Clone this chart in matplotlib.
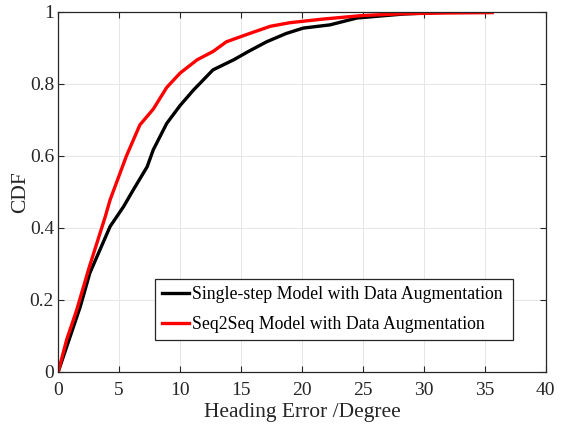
import matplotlib
matplotlib.use("Agg")
import matplotlib.pyplot as plt

# values
single_x = [0, 0.7, 1.8, 2.6, 4.26, 5.36, 6.15, 7.3, 7.8, 8.9, 10.0, 11.1,
            12.7, 14.4, 15.6, 17.1, 18.7, 20.1, 22.3, 24.5, 28.3, 32.1, 35.4]
single_y = [0, 0.07, 0.18, 0.275, 0.404, 0.459, 0.505, 0.57, 0.617, 0.69, 0.74,
            0.783, 0.839, 0.867, 0.89, 0.917, 0.94, 0.955, 0.964, 0.983, 0.994, 1.0, 1.0]

seq_x = [0, 0.7, 1.5, 2.54, 3.85, 4.26, 4.5, 5.6, 6.7, 7.8, 8.9, 10.0, 11.4,
         12.7, 13.8, 15.7, 17.4, 19.0, 21.7, 25.0, 28.3, 32.0, 35.6]
seq_y = [0, 0.09, 0.17, 0.29, 0.43, 0.478, 0.5, 0.6, 0.686, 0.73, 0.79, 0.83, 0.867,
         0.89, 0.917, 0.94, 0.96, 0.97, 0.98, 0.99, 0.995, 0.997, 0.998]

labels = ["Single-step Model with Data Augmentation",
          "Seq2Seq Model with Data Augmentation"]
xticks = [0, 5, 10, 15, 20, 25, 30, 35, 40]
yticks = [0, 0.2, 0.4, 0.6, 0.8, 1]
ytick_labels = ["0", "0.2", "0.4", "0.6", "0.8", "1"]

plt.rcParams["font.family"] = ["Liberation Serif", "DejaVu Serif"]

fig = plt.figure(figsize=(5.65, 4.25), dpi=100)
ax = fig.add_axes([0.103, 0.125, 0.863, 0.847])

ax.plot(single_x, single_y, color="black", lw=2.4, label=labels[0])
ax.plot(seq_x, seq_y, color="red", lw=2.4, label=labels[1])

ax.set_xlim(0, 40)
ax.set_ylim(0, 1)
ax.set_xticks(xticks)
ax.set_yticks(yticks)
ax.set_yticklabels(ytick_labels)
ax.tick_params(direction="in", top=True, right=True, labelsize=14, length=4,
               colors="#262626")
ax.tick_params(axis="x", pad=7)
ax.tick_params(axis="y", pad=3)
ax.grid(True, color="#e6e6e6", lw=0.7)
for s in ax.spines.values():
    s.set_color("#262626")
    s.set_linewidth(0.9)

ax.set_xlabel("Heading Error /Degree", fontsize=15.5, color="#262626", labelpad=3)
ax.set_ylabel("CDF", fontsize=15.5, color="#262626", labelpad=0)

leg = ax.legend(loc="lower left", bbox_to_anchor=(0.199, 0.089, 0.733, 0.175),
                mode="expand", fontsize=12.8, fancybox=False, framealpha=1,
                edgecolor="#262626", handlelength=1.5, handletextpad=0.15,
                borderaxespad=0, labelspacing=0.7, borderpad=0.4)
leg.get_frame().set_linewidth(0.9)

fig.savefig("out.png", dpi=100)
